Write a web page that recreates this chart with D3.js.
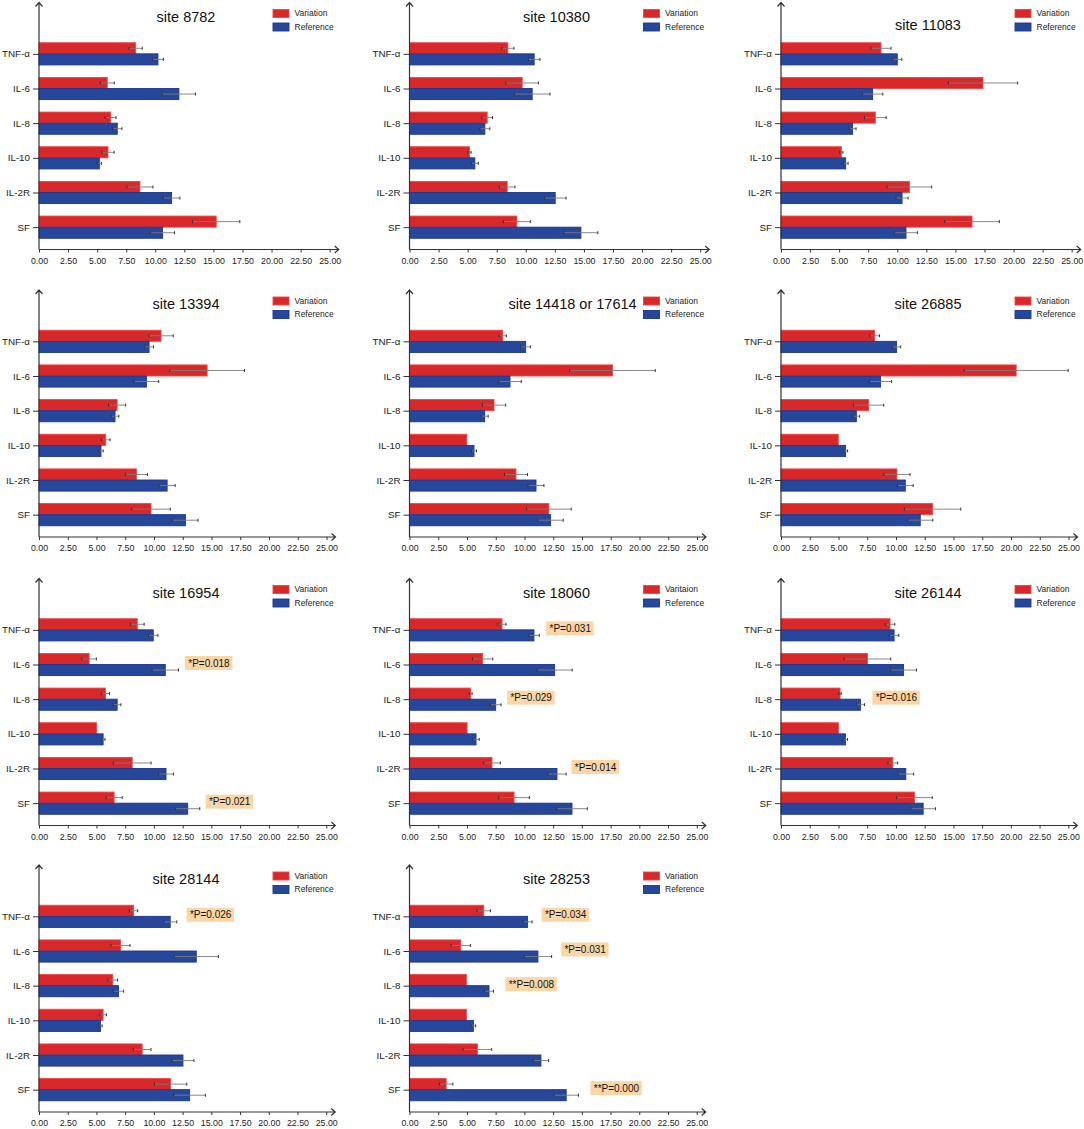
<!DOCTYPE html>
<html>
<head>
<meta charset="utf-8">
<script src="https://cdn.jsdelivr.net/npm/d3@7"></script>
<style>
body { margin: 0; background: #fff; }
svg { display: block; font-family: "Liberation Sans", Arial, sans-serif; }
</style>
</head>
<body>
<div id="chart"></div>
<script>
// Dados
var categories = ["TNF-α", "IL-6", "IL-8", "IL-10", "IL-2R", "SF"];
var sites = ["site 8782", "site 10380", "site 11083",
             "site 13394", "site 14418 or 17614", "site 26885",
             "site 16954", "site 18060", "site 26144",
             "site 28144", "site 28253"];
var variationLabels = ["Variation", "Variation", "Variation", "Variation", "Variation", "Variation",
                       "Variation", "Varitaion", "Variation", "Variation", "Variation"];
var referenceLabel = "Reference";

var variation = [
    [8.31, 5.87, 6.16, 5.93, 8.68, 15.24],
    [8.46, 9.69, 6.68, 5.16, 8.40, 9.23],
    [8.60, 17.37, 8.11, 5.19, 11.04, 16.43],
    [10.61, 14.62, 6.79, 5.80, 8.47, 9.74],
    [8.10, 17.65, 7.35, 4.98, 9.26, 12.12],
    [8.14, 20.45, 7.62, 4.98, 10.08, 13.18],
    [8.55, 4.36, 5.78, 5.00, 8.11, 6.54],
    [8.05, 6.37, 5.33, 5.01, 7.18, 9.10],
    [9.49, 7.52, 5.14, 4.99, 9.73, 11.61],
    [8.23, 7.09, 6.42, 5.58, 8.98, 11.45],
    [6.46, 4.46, 4.95, 4.95, 5.91, 3.19]
];
var variationErr = [
    [0.57, 0.60, 0.46, 0.53, 1.12, 2.03],
    [0.52, 1.40, 0.46, 0.14, 0.67, 1.16],
    [0.86, 2.98, 0.93, 0.13, 1.92, 2.35],
    [1.06, 3.25, 0.74, 0.38, 0.96, 1.68],
    [0.32, 3.72, 1.01, 0, 1.00, 1.94],
    [0.43, 4.52, 1.32, 0, 1.14, 2.45],
    [0.60, 0.63, 0.36, 0, 1.64, 0.70],
    [0.35, 0.88, 0.12, 0, 0.72, 1.33],
    [0.41, 2.03, 0.10, 0, 0.42, 1.55],
    [0.36, 0.83, 0.42, 0.29, 0.77, 1.41],
    [0.59, 0.84, 0, 0, 1.25, 0.59]
];
var reference = [
    [10.23, 12.03, 6.73, 5.19, 11.40, 10.63],
    [10.72, 10.55, 6.48, 5.62, 12.53, 14.74],
    [10.00, 7.88, 6.16, 5.56, 10.41, 10.75],
    [9.57, 9.34, 6.61, 5.39, 11.14, 12.73],
    [10.10, 8.74, 6.54, 5.61, 11.00, 12.27],
    [10.05, 8.66, 6.55, 5.62, 10.81, 12.11],
    [9.94, 10.99, 6.80, 5.58, 11.05, 12.94],
    [10.83, 12.63, 7.50, 5.79, 12.83, 14.14],
    [9.84, 10.66, 6.91, 5.60, 10.86, 12.37],
    [11.42, 13.69, 6.92, 5.35, 12.53, 13.11],
    [10.28, 11.18, 6.92, 5.56, 11.44, 13.64]
];
var referenceErr = [
    [0.46, 1.43, 0.40, 0.17, 0.72, 1.03],
    [0.50, 1.53, 0.43, 0.30, 0.93, 1.46],
    [0.39, 0.88, 0.29, 0.21, 0.52, 0.98],
    [0.39, 1.07, 0.33, 0.19, 0.70, 1.10],
    [0.43, 0.98, 0.30, 0.22, 0.69, 1.10],
    [0.36, 0.96, 0.29, 0.17, 0.68, 1.09],
    [0.41, 1.15, 0.33, 0.16, 0.65, 1.05],
    [0.46, 1.53, 0.46, 0.28, 0.80, 1.33],
    [0.41, 1.13, 0.36, 0.19, 0.68, 1.07],
    [0.57, 1.92, 0.45, 0.15, 0.96, 1.37],
    [0.39, 1.19, 0.39, 0.20, 0.67, 1.06]
];
var xTicks = [0, 2.5, 5, 7.5, 10, 12.5, 15, 17.5, 20, 22.5, 25];

// P values (painel, categoria, texto, valor do eixo onde a caixa começa)
var pSite = [6, 6, 7, 7, 7, 8, 9, 10, 10, 10, 10];
var pCat = ["IL-6", "SF", "TNF-α", "IL-8", "IL-2R", "IL-8", "TNF-α", "TNF-α", "IL-6", "IL-8", "SF"];
var pText = ["*P=0.018", "*P=0.021", "*P=0.031", "*P=0.029", "*P=0.014", "*P=0.016",
             "*P=0.026", "*P=0.034", "*P=0.031", "**P=0.008", "**P=0.000"];
var pAt = [12.7, 14.5, 11.9, 8.5, 14.1, 7.95, 12.85, 11.5, 13.2, 8.35, 15.75];

// Layout
var svgWidth = 1084, svgHeight = 1129;
var colX = [39, 409.5, 781];
var rowY = [249.5, 537, 825.5, 1112];
var rowW = [290.7, 287.5, 287.3, 287.2];
var titleNudge = { 2: [0, 8], 4: [16, 0] };

var svg = d3.select("#chart").append("svg")
    .attr("width", svgWidth)
    .attr("height", svgHeight);

svg.append("rect").attr("width", svgWidth).attr("height", svgHeight).attr("fill", "#fff");

var redFill = "#d8282a", redStroke = "#f04646";
var blueFill = "#27479a", blueStroke = "#1a3590";
var axisColor = "#333";

function drawPanel(i) {
    var row = Math.floor(i / 3);
    var ox = colX[i % 3], oy = rowY[row], w = rowW[row];

    var g = svg.append("g")
        .attr("transform", "translate(" + ox + "," + oy + ")");

    var x = d3.scaleLinear().domain([0, 25]).range([0, w]);
    var y = d3.scalePoint().domain(categories).range([-213, -5]).padding(0.5);
    var bh = y.step() * 0.32;

    // Barras
    var rows = categories.map(function (c, k) {
        return { cat: c, v: variation[i][k], ve: variationErr[i][k], r: reference[i][k], re: referenceErr[i][k] };
    });

    g.selectAll("rect.var").data(rows).enter().append("rect")
        .attr("x", x(0))
        .attr("y", d => y(d.cat) - bh)
        .attr("width", d => x(d.v) - x(0))
        .attr("height", bh)
        .attr("fill", redFill)
        .attr("stroke", redStroke)
        .attr("stroke-width", 0.9);

    g.selectAll("rect.ref").data(rows).enter().append("rect")
        .attr("x", x(0))
        .attr("y", d => y(d.cat))
        .attr("width", d => x(d.r) - x(0))
        .attr("height", bh)
        .attr("fill", blueFill)
        .attr("stroke", blueStroke)
        .attr("stroke-width", 0.9);

    // Barras de erro
    var errs = [];
    rows.forEach(function (d) {
        if (d.ve > 0) errs.push({ v: d.v, e: d.ve, cy: y(d.cat) - bh / 2 });
        if (d.re > 0) errs.push({ v: d.r, e: d.re, cy: y(d.cat) + bh / 2 });
    });
    var eg = g.append("g");
    eg.selectAll("line.err").data(errs).enter().append("line")
        .attr("x1", d => x(d.v - d.e)).attr("x2", d => x(d.v + d.e))
        .attr("y1", d => d.cy).attr("y2", d => d.cy)
        .attr("stroke", "#7a7a7a").attr("stroke-width", 0.9);
    eg.selectAll("path.cap").data(errs).enter().append("path")
        .attr("d", d => `M ${x(d.v - d.e)},${d.cy - 1.5} v 3 M ${x(d.v + d.e)},${d.cy - 1.5} v 3`)
        .attr("stroke", "#333").attr("stroke-width", 1);

    // Eixo X
    var xAxis = g.append("g")
        .call(d3.axisBottom(x).tickValues(xTicks).tickFormat(d3.format(".2f")).tickSize(3).tickPadding(5));
    xAxis.select(".domain").remove();
    xAxis.selectAll("line").attr("stroke", axisColor);
    xAxis.selectAll("text").attr("font-size", 8.8).attr("fill", "#222")
        .attr("font-family", "'Liberation Sans', Arial, sans-serif");

    // Eixo Y
    var yAxis = g.append("g")
        .call(d3.axisLeft(y).tickSize(6).tickPadding(3));
    yAxis.select(".domain").remove();
    yAxis.selectAll("line").attr("stroke", axisColor);
    yAxis.selectAll("text").attr("font-size", 9.8).attr("fill", "#222")
        .attr("font-family", "'Liberation Sans', Arial, sans-serif");

    g.append("path")
        .attr("fill", "none").attr("stroke", axisColor).attr("stroke-width", 1.2)
        .attr("d", `M 0,0 L ${w + 9},0 M ${w + 5},-3.5 L ${w + 9},0 L ${w + 5},3.5`);
    g.append("path")
        .attr("fill", "none").attr("stroke", axisColor).attr("stroke-width", 1.2)
        .attr("d", `M 0,0 L 0,-247 M -3.5,-243 L 0,-247 L 3.5,-243`);

    // Título
    var nudge = titleNudge[i] || [0, 0];
    g.append("text")
        .attr("x", 147 + nudge[0])
        .attr("y", -233 + nudge[1])
        .attr("dy", "0.35em")
        .attr("text-anchor", "middle")
        .attr("font-size", 14.5)
        .attr("fill", "#111")
        .text(sites[i]);

    // Legenda
    var leg = [
        { label: variationLabels[i], fill: redFill, stroke: redStroke, y: -240 },
        { label: referenceLabel, fill: blueFill, stroke: blueStroke, y: -226.5 }
    ];
    var lg = g.append("g");
    lg.selectAll("rect").data(leg).enter().append("rect")
        .attr("x", 234).attr("y", d => d.y)
        .attr("width", 16).attr("height", 8)
        .attr("fill", d => d.fill).attr("stroke", d => d.stroke).attr("stroke-width", 0.9);
    lg.selectAll("text").data(leg).enter().append("text")
        .attr("x", 255.5).attr("y", d => d.y + 4)
        .attr("dy", "0.35em")
        .attr("font-size", 8.5)
        .attr("fill", "#222")
        .text(d => d.label);

    // P valores
    pSite.forEach(function (s, k) {
        if (s !== i) return;
        var cy = y(pCat[k]) - 1.5;
        var ag = g.append("g");
        var box = ag.append("rect")
            .attr("x", x(pAt[k]))
            .attr("y", cy - 7)
            .attr("height", 14)
            .attr("fill", "#fbd6a6");
        var t = ag.append("text")
            .attr("x", x(pAt[k]) + 3.3)
            .attr("y", cy)
            .attr("dy", "0.35em")
            .attr("font-size", 10)
            .attr("fill", "#111")
            .text(pText[k]);
        box.attr("width", t.node().getComputedTextLength() + 6);
    });
}

sites.forEach(function (s, i) { drawPanel(i); });
</script>
</body>
</html>
